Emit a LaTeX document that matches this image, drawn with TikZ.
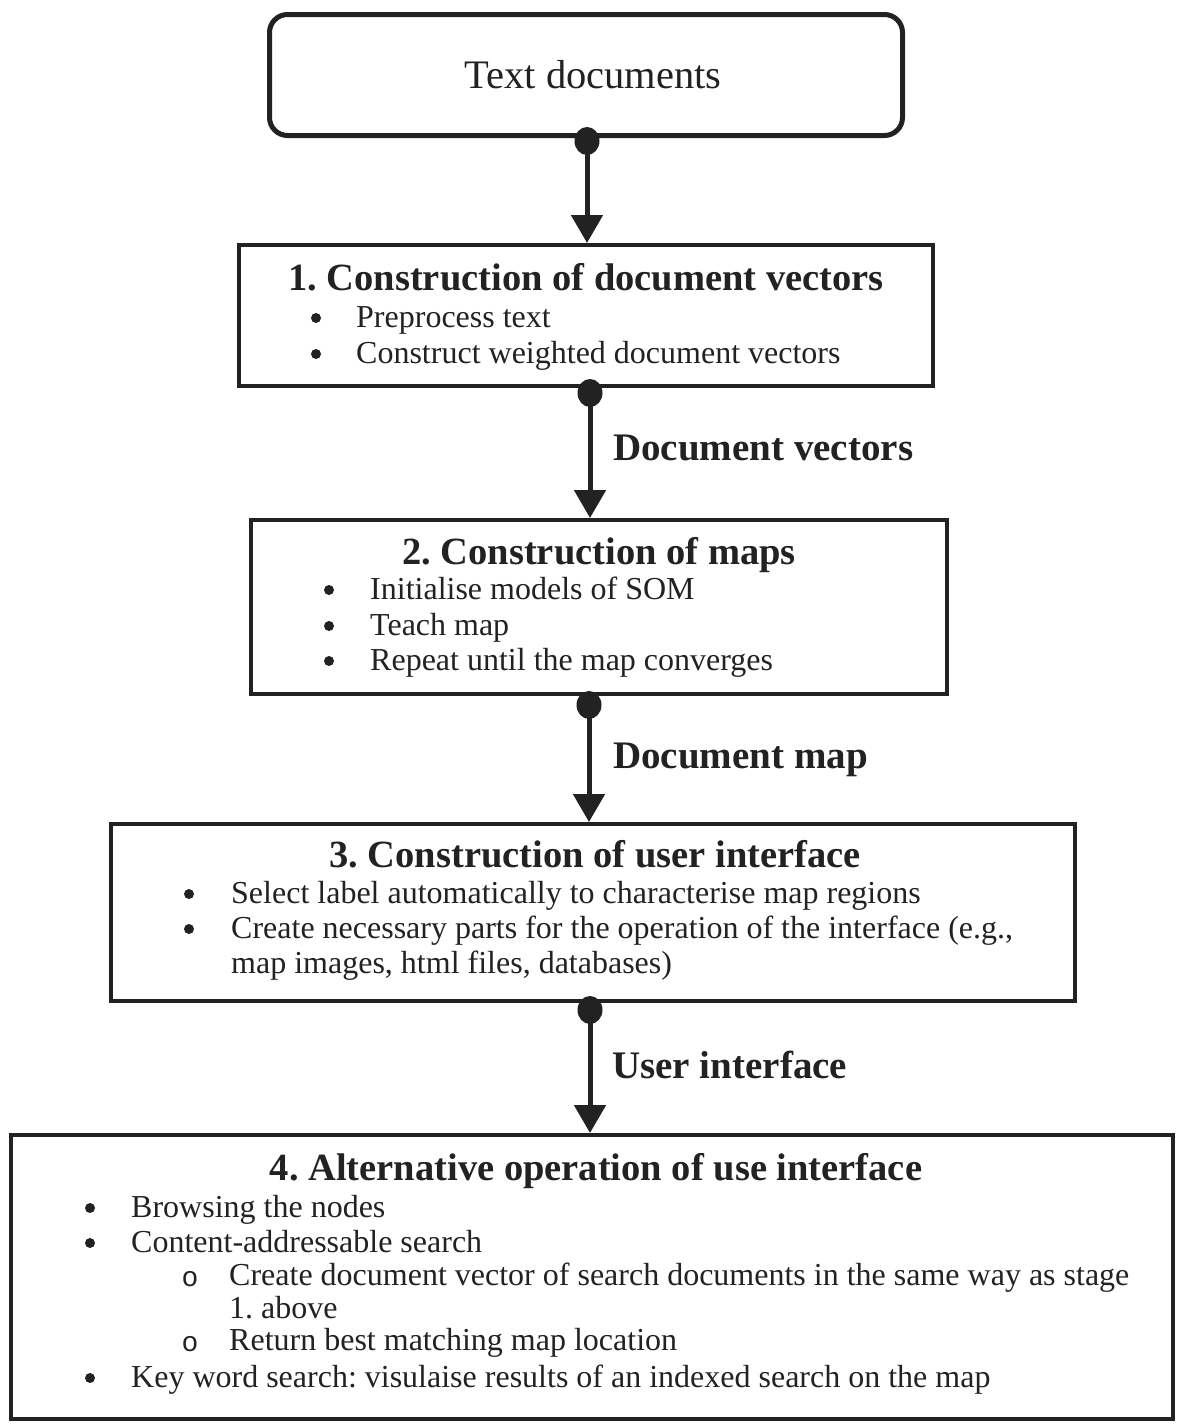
\documentclass[tikz,border=0pt]{standalone}
\usepackage{fontspec}
\setmainfont{Liberation Serif}
\newfontfamily\monof{Liberation Mono}
\usetikzlibrary{arrows.meta,shapes.geometric}
\definecolor{ink}{HTML}{222222}
\frenchspacing
\begin{document}
\begin{tikzpicture}[x=1pt,y=-1pt,
  box/.style={draw=ink, line width=4pt, inner sep=0pt, fill=white},
  body/.style={font=\fontsize{32}{36}\selectfont, text=ink, inner sep=0pt, anchor=base west},
  ttl/.style={font=\fontsize{38.5}{42}\selectfont\bfseries, text=ink, inner sep=0pt, anchor=base},
  lbl/.style={font=\fontsize{39}{44}\selectfont\bfseries, text=ink, inner sep=0pt, anchor=base west},
  bul/.style={circle, fill=ink, minimum size=10pt, inner sep=0pt},
  sub/.style={font=\fontsize{28}{32}\selectfont\monof, text=ink, inner sep=0pt, anchor=base},
  dotn/.style={ellipse, fill=ink, minimum width=25pt, minimum height=28pt, inner sep=0pt},
  arr/.style={draw=ink, line width=5pt, -{Triangle[width=31pt,length=28pt]}}]
\useasboundingbox[fill=white] (0,0) rectangle (1182,1427);

% boxes
\node[box, line width=5pt, rounded corners=18pt, minimum width=633pt, minimum height=121pt] (b0) at (586,75) {};
\node[box, minimum width=694pt, minimum height=141pt] (b1) at (586,315.5) {};
\node[box, minimum width=696pt, minimum height=174pt] (b2) at (599,607) {};
\node[box, minimum width=964pt, minimum height=177pt] (b3) at (593,912.5) {};
\node[box, minimum width=1162pt, minimum height=284pt] (b4) at (592,1277) {};

% top text
\node[font=\fontsize{40.5}{46}\selectfont, text=ink, inner sep=0pt, anchor=base] (t0) at (593,88) {Text documents};

% box 1
\node[ttl] (t1) at (586,290) {1. Construction of document vectors};
\node[bul] (b1a) at (316,318) {};
\node[body] (l1a) at (356,327) {Preprocess text};
\node[bul] (b1b) at (316,354) {};
\node[body] (l1b) at (356,363) {Construct weighted document vectors};

% box 2
\node[ttl] (t2) at (599,564) {2. Construction of maps};
\node[bul] (b2a) at (329,590) {};
\node[body] (l2a) at (370,599) {Initialise models of SOM};
\node[bul] (b2b) at (329,626) {};
\node[body] (l2b) at (370,635) {Teach map};
\node[bul] (b2c) at (329,661) {};
\node[body] (l2c) at (370,670) {Repeat until the map converges};

% box 3
\node[ttl] (t3) at (595,867) {3. Construction of user interface};
\node[bul] (b3a) at (189,894) {};
\node[body] (l3a) at (231,903) {Select label automatically to characterise map regions};
\node[bul] (b3b) at (189,929) {};
\node[body] (l3b) at (231,938) {Create necessary parts for the operation of the interface (e.g.,};
\node[body] (l3c) at (231,973) {map images, html files, databases)};

% box 4
\node[ttl] (t4) at (596,1180) {4. Alternative operation of use interface};
\node[bul] (b4a) at (90,1208) {};
\node[body] (l4a) at (131,1217) {Browsing the nodes};
\node[bul] (b4b) at (90,1243) {};
\node[body] (l4b) at (131,1252) {Content-addressable search};
\node[sub] (s4a) at (190,1286) {o};
\node[body] (l4c) at (229,1285) {Create document vector of search documents in the same way as stage};
\node[body] (l4d) at (229,1318) {1. above};
\node[sub] (s4b) at (190,1351) {o};
\node[body] (l4e) at (229,1350) {Return best matching map location};
\node[bul] (b4c) at (90,1378) {};
\node[body] (l4f) at (131,1387) {Key word search: visulaise results of an indexed search on the map};

% dots and arrows
\node[dotn] (d0) at (587,141) {};
\node[dotn] (d1) at (590,393) {};
\node[dotn] (d2) at (589,705) {};
\node[dotn] (d3) at (590,1010) {};
\draw[arr] (d0.center) -- (d0.center |- b1.north);
\draw[arr] (d1.center) -- (d1.center |- b2.north);
\draw[arr] (d2.center) -- (d2.center |- b3.north);
\draw[arr] (d3.center) -- (d3.center |- b4.north);

% labels
\node[lbl] (la) at (613,460) {Document vectors};
\node[lbl] (lb) at (613,768) {Document map};
\node[lbl] (lc) at (612,1078) {User interface};
\end{tikzpicture}
\end{document}
